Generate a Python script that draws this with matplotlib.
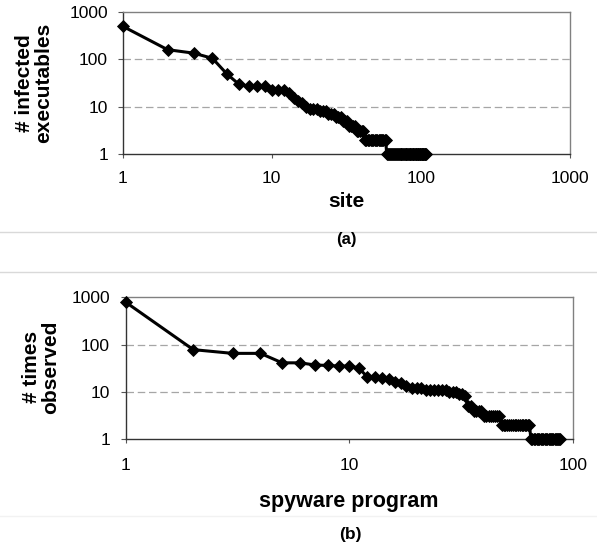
import matplotlib
matplotlib.use("Agg")
import matplotlib.pyplot as plt
from matplotlib.ticker import FixedLocator, FixedFormatter, NullLocator
from matplotlib.lines import Line2D

plt.rcParams['font.family'] = ['Liberation Sans', 'DejaVu Sans']

# ---- data ----
infected = ([500, 160, 135, 105, 49, 30, 27, 27, 27, 23, 23, 23,
             19, 15, 13, 12, 10, 9, 9, 9, 8, 8, 8, 7, 7, 7, 6, 6, 6,
             5, 5, 5, 4, 4, 4, 4, 3, 3, 3, 3, 3]
            + [2] * 17 + [1] * 50)
site_rank = list(range(1, len(infected) + 1))

observed = ([780, 78, 65, 65, 41, 41, 37, 36, 35, 35, 32,
             21, 21, 20, 19, 16, 15, 13, 12, 12, 12,
             11, 11, 11, 11, 11, 11, 10, 10, 10, 9, 9, 8, 5, 5, 4, 4, 4, 4]
            + [3] * 8 + [2] * 17 + [1] * 24)
program_rank = list(range(1, len(observed) + 1))

y_ticks = [1, 10, 100, 1000]
y_ticklabels = ['1', '10', '100', '1000']
x_ticks_a = [1, 10, 100, 1000]
x_ticklabels_a = ['1', '10', '100', '1000']
x_ticks_b = [1, 10, 100]
x_ticklabels_b = ['1', '10', '100']

W, H = 597, 550
fig = plt.figure(figsize=(W / 100, H / 100), dpi=100)


def fx(px):
    return px / W


def fy(py):
    return 1 - py / H


def style_axes(ax, xt, xl, xmax, xpad, ypad):
    ax.set_xscale('log')
    ax.set_yscale('log')
    ax.set_xlim(1, xmax)
    ax.set_ylim(1, 1000)
    ax.xaxis.set_major_locator(FixedLocator(xt))
    ax.xaxis.set_major_formatter(FixedFormatter(xl))
    ax.xaxis.set_minor_locator(NullLocator())
    ax.yaxis.set_major_locator(FixedLocator(y_ticks))
    ax.yaxis.set_major_formatter(FixedFormatter(y_ticklabels))
    ax.yaxis.set_minor_locator(NullLocator())
    ax.tick_params(axis='x', direction='out', length=3, width=0.8,
                   color='#555555', labelsize=12.5, pad=xpad)
    ax.tick_params(axis='y', direction='out', length=3.5, width=0.8,
                   color='#555555', labelsize=12.5, pad=ypad)
    for s in ['left', 'bottom']:
        ax.spines[s].set_color('#333333')
        ax.spines[s].set_linewidth(1.0)
    for s in ['top', 'right']:
        ax.spines[s].set_color('#808080')
        ax.spines[s].set_linewidth(1.0)
    for g in [10, 100]:
        ax.axhline(g, color='#a6a6a6', lw=0.9, dashes=(6, 3), zorder=1)


# ---- top chart (a) ----
axa = fig.add_axes([fx(122.7), fy(154), fx(570) - fx(122.7), fy(12) - fy(154)])
style_axes(axa, x_ticks_a, x_ticklabels_a, 1000, 9, 7)
axa.plot(site_rank, infected, color='black', lw=2.2, marker='D', markersize=5.8,
         markeredgewidth=0.6, clip_on=False, zorder=5)

fig.text(fx(34), fy(83), '# infected\nexecutables', rotation=90, ha='center',
         va='center', fontsize=15, fontweight='bold', linespacing=1.0)
fig.text(fx(346), fy(202), 'site', ha='center', va='center', fontsize=15,
         fontweight='bold')
fig.text(fx(346), fy(240), '(a)', ha='center', va='center', fontsize=12,
         fontweight='bold')

# ---- bottom chart (b) ----
axb = fig.add_axes([fx(126), fy(439), fx(572.7) - fx(126), fy(297.3) - fy(439)])
style_axes(axb, x_ticks_b, x_ticklabels_b, 100, 11, 8)
axb.plot(program_rank, observed, color='black', lw=2.2, marker='D', markersize=5.8,
         markeredgewidth=0.6, clip_on=False, zorder=5)

fig.text(fx(41), fy(367), '# times\nobserved', rotation=90, ha='center',
         va='center', fontsize=15, fontweight='bold', linespacing=1.0)
fig.text(fx(349), fy(501), 'spyware program', ha='center', va='center',
         fontsize=15.5, fontweight='bold')
fig.text(fx(350), fy(535), '(b)', ha='center', va='center', fontsize=12.5,
         fontweight='bold')

# ---- separator lines ----
for yy, col in [(232, '#d9d9d9'), (272, '#d9d9d9'), (516, '#f2f2f2')]:
    fig.add_artist(Line2D([0, 1], [fy(yy), fy(yy)], transform=fig.transFigure,
                          color=col, lw=1.0))

fig.savefig('out.png', dpi=100)
